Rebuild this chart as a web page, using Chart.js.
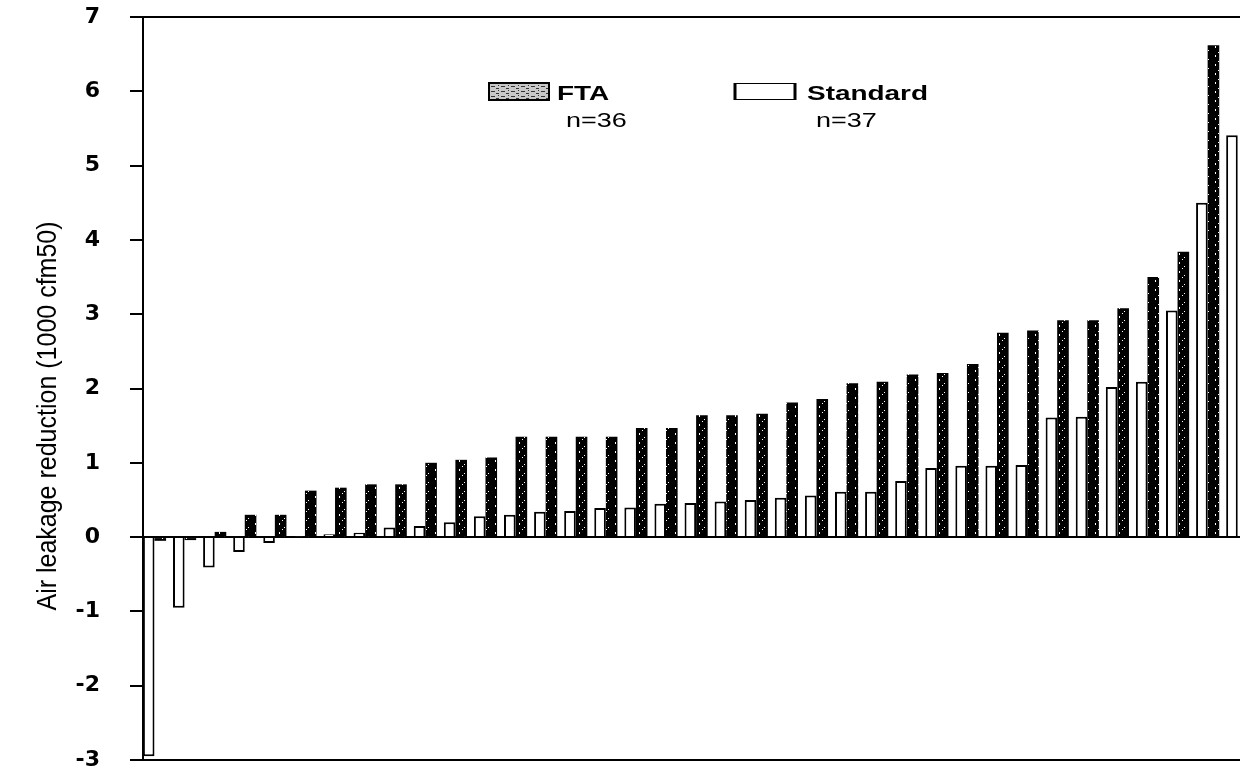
<!DOCTYPE html>
<html>
<head>
<meta charset="utf-8">
<script src="https://cdn.jsdelivr.net/npm/chart.js@4.4.1/dist/chart.umd.min.js"></script>
<style>
html,body{margin:0;padding:0;background:#fff;overflow:hidden}
#wrap{position:relative;width:1240px;height:772px}
</style>
</head>
<body>
<div id="wrap"><canvas id="c" width="1240" height="772"></canvas></div>
<script>
// ---- data ----
const categories = ['1','2','3','4','5','6','7','8','9','10','11','12','13','14','15','16','17','18','19','20',
  '21','22','23','24','25','26','27','28','29','30','31','32','33','34','35','36','37'];
const standardValues = [-2.95,-0.95,-0.41,-0.2,-0.08,0.01,0.04,0.06,0.13,0.15,0.2,0.28,0.3,0.34,0.35,0.39,0.4,
  0.45,0.46,0.48,0.5,0.53,0.56,0.61,0.61,0.755,0.93,0.96,0.96,0.97,1.61,1.62,2.02,2.09,3.05,4.5,5.41];
const ftaValues = [-0.05,-0.04,0.07,0.3,0.3,0.625,0.665,0.71,0.71,1.0,1.04,1.07,1.35,1.35,1.35,1.35,1.47,1.47,
  1.64,1.64,1.66,1.81,1.86,2.07,2.09,2.19,2.21,2.33,2.75,2.78,2.92,2.92,3.08,3.5,3.84,6.62];
const yTicks = [-3,-2,-1,0,1,2,3,4,5,6,7];
const seriesNames = ['Standard','FTA'];
const seriesCounts = ['n=37','n=36'];
const yTitle = 'Air leakage reduction (1000 cfm50)';

const canvas = document.getElementById('c');
const ctx = canvas.getContext('2d');

function darkPattern(){
  const t = document.createElement('canvas'); t.width = 12; t.height = 9;
  const g = t.getContext('2d');
  g.fillStyle = '#000'; g.fillRect(0,0,12,9);
  g.fillStyle = '#fff';
  g.fillRect(3,1,1,2); g.fillRect(8,5,1,1); g.fillRect(6,7,1,1);
  return ctx.createPattern(t,'repeat');
}
function greyPattern(){
  const t = document.createElement('canvas'); t.width = 10; t.height = 5;
  const g = t.getContext('2d');
  g.fillStyle = '#c8c8c8'; g.fillRect(0,0,10,5);
  g.fillStyle = '#333';
  g.fillRect(1,1,4,1); g.fillRect(6,3,3,1); g.fillRect(8,0,1,1);
  return ctx.createPattern(t,'repeat');
}

const toPoints = vals => vals.map((v,i)=>({x: Number(categories[i]), y: v}));

const decor = {
  id: 'decor',
  beforeDraw(chart){
    const c = chart.ctx;
    c.save(); c.fillStyle = '#fff'; c.fillRect(0,0,chart.width,chart.height); c.restore();
  },
  afterDraw(chart){
    const c = chart.ctx, a = chart.chartArea;
    c.save();
    // top frame line
    c.strokeStyle = '#000'; c.lineWidth = 2;
    c.beginPath(); c.moveTo(a.left, a.top); c.lineTo(chart.width, a.top); c.stroke();
    // y title
    c.fillStyle = '#000';
    c.translate(48, 416); c.rotate(-Math.PI/2); c.scale(1, 1.12);
    c.font = '25px "Liberation Sans", Arial, sans-serif';
    c.textAlign = 'center'; c.textBaseline = 'middle';
    c.fillText(yTitle, 0, 0);
    c.restore();

    // legend
    c.save();
    c.lineWidth = 2; c.strokeStyle = '#000';
    c.fillStyle = greyPattern();
    c.fillRect(489,83,60,17); c.strokeRect(489,83,60,17);
    c.fillStyle = '#fff';
    c.fillRect(734,83,62,17);
    c.lineWidth = 3;
    c.beginPath(); c.moveTo(735,83); c.lineTo(735,100); c.moveTo(795,83); c.lineTo(795,100); c.stroke();
    c.lineWidth = 1;
    c.strokeRect(735,83.5,60,16);
    c.fillStyle = '#000';
    const txt = (s, x, y, font, sx) => { c.save(); c.translate(x,y); c.scale(sx,1); c.font = font; c.textBaseline='alphabetic'; c.textAlign='left'; c.fillText(s,0,0); c.restore(); };
    txt(seriesNames[1], 557, 100, 'bold 21px "Liberation Sans", Arial, sans-serif', 1.33);
    txt(seriesCounts[1], 566, 127, '20px "Liberation Sans", Arial, sans-serif', 1.35);
    txt(seriesNames[0], 807, 100, 'bold 21px "Liberation Sans", Arial, sans-serif', 1.33);
    txt(seriesCounts[0], 816, 127, '20px "Liberation Sans", Arial, sans-serif', 1.35);
    c.restore();
  }
};

Chart.defaults.color = '#000';
new Chart(ctx, {
  type: 'bar',
  data: {
    datasets: [
      { label: seriesNames[0], data: toPoints(standardValues), backgroundColor: '#fff', borderColor: '#000',
        borderWidth: 2, borderSkipped: 'start', categoryPercentage: 0.77, barPercentage: 1.0 },
      { label: seriesNames[1], data: toPoints(ftaValues), backgroundColor: darkPattern(), borderColor: '#000',
        borderWidth: 0, categoryPercentage: 0.77, barPercentage: 1.0 }
    ]
  },
  options: {
    responsive: false, animation: false,
    layout: { padding: { left: 0, right: 0, top: 17, bottom: 12 } },
    plugins: { legend: { display: false }, tooltip: { enabled: false } },
    scales: {
      x: {
        type: 'linear', min: 0.618, max: 37.075, offset: false,
        ticks: { display: false },
        grid: { display: false, drawTicks: false },
        border: { display: true, color: '#000', width: 2 },
        afterFit(s){ s.height = 0; s.paddingLeft = 0; s.paddingRight = 0; }
      },
      y: {
        min: yTicks[0], max: yTicks[yTicks.length-1],
        afterBuildTicks(s){ s.ticks = yTicks.map(v=>({value:v})); },
        ticks: { font: { family: '"DejaVu Sans", "Liberation Sans", Arial, sans-serif', size: 22, weight: 'bold' }, color: '#000', padding: 30 },
        grid: { color: c => (c.tick && c.tick.value === 0) ? '#000' : 'rgba(0,0,0,0)', tickColor: '#000', tickLength: 13, lineWidth: 2 },
        border: { display: true, color: '#000', width: 2 },
        afterFit(s){ s.width = 143; s.paddingTop = 0; s.paddingBottom = 0; }
      }
    }
  },
  plugins: [decor]
});
</script>
</body>
</html>
